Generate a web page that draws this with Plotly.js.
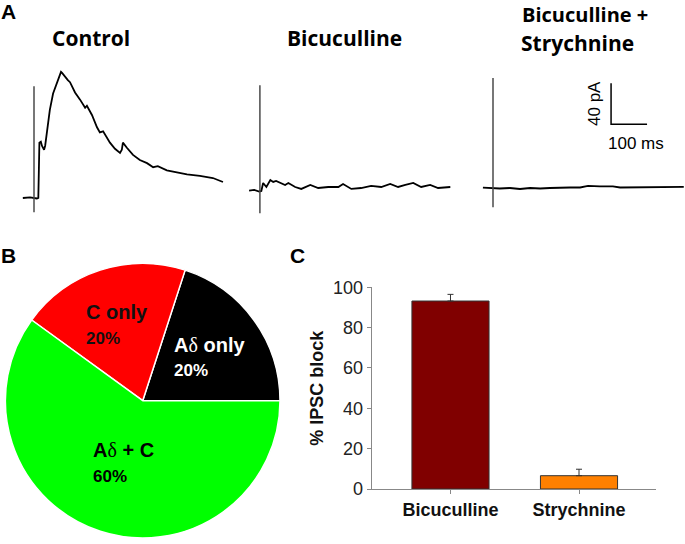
<!DOCTYPE html>
<html>
<head>
<meta charset="utf-8">
<script src="https://cdn.plot.ly/plotly-3.0.1.min.js"></script>
<style>html,body{margin:0;padding:0;background:#fff;}#chart{width:685px;height:544px;}</style>
</head>
<body>
<div id="chart"></div>
<script>
// ---------- DATA ----------
// Panel A: IPSC traces (time in ms relative to stimulus, current in pA relative to baseline)
const controlTime = [-31,-11,8,12,15,19,22,28,31,36,44,53,64,69,75,78,86,94,100,114,128,142,147,153,161,175,183,192,197,211,225,239,244,247,258,275,294,314,331,344,369,397,425,461,497,525];
const controlCurrent = [0,0.5,-0.5,0,54,55,51,47,51,63,86,102,113,117,123,122,118,115,113,103,96,88,90,86,81,69,64,65,62,54,48,44,47,54,49,42,37,34,30,31,27,25,23,21.5,19.5,15.6];
const bicTime = [-30,-16,-2,4,9,18,29,37,45,56,70,79,98,115,140,162,190,218,231,254,281,309,337,362,384,404,426,448,473,495,529];
const bicCurrent = [0,0.7,-0.8,-0.3,7.5,3.6,10.4,8.5,9.5,7.5,5.6,7.5,3.6,1.7,5.6,2.6,3.6,3.6,6.5,1.7,2.6,4.6,3.6,6.5,3.6,5.6,7.5,3.6,5.6,2.6,3.6];
const bsTime = [-28,-8,19,47,75,103,131,158,186,214,242,264,297,333,353,394,436,478,530];
const bsCurrent = [0,-0.3,-0.8,-0.3,-1.3,-0.3,-0.8,-0.3,0.2,0.2,0.2,1.7,1.2,1.2,0.2,0.2,0.2,0.7,0.7];
// stimulus artifacts (pA extent at t = 0)
const artifactTime = [0, 0];
const controlArtifact = [109, -14];
const bicArtifact = [103, -22];
const bsArtifact = [107, -19];
// scale bar: 40 pA x 100 ms
const scaleBarTime = [328, 328, 428];
const scaleBarCurrent = [102, 62, 62];
const traceTitles = ["Control", "Bicuculline", "Bicuculline +", "Strychnine"];

// Panel B: pie
const pieLabels = ["A\u03b4 only", "C only", "A\u03b4 + C"];
const pieValues = [20, 20, 60];

// Panel C: bars
const barCategories = ["Bicuculline", "Strychnine"];
const barValues = [93.2, 6.6];
const barErrors = [3.3, 3.2];
const yTickVals = [0, 20, 40, 60, 80, 100];

// ---------- LAYOUT HELPERS ----------
const W = 685, H = 544;
const px = x => x / W;
const py = y => 1 - y / H;
const ARIAL = "Liberation Sans, Arial, sans-serif";
const TITLEFONT = "Open Sans, sans-serif";

const traceLine = {color: "#000", width: 1.8};
const artLine = {color: "#4a4a4a", width: 1.5};

const data = [
  {x: controlTime, y: controlCurrent, xaxis: "x", yaxis: "y", mode: "lines", line: traceLine, hoverinfo: "skip"},
  {x: artifactTime, y: controlArtifact, xaxis: "x", yaxis: "y", mode: "lines", line: artLine, hoverinfo: "skip"},
  {x: bicTime, y: bicCurrent, xaxis: "x2", yaxis: "y2", mode: "lines", line: traceLine, hoverinfo: "skip"},
  {x: artifactTime, y: bicArtifact, xaxis: "x2", yaxis: "y2", mode: "lines", line: artLine, hoverinfo: "skip"},
  {x: bsTime, y: bsCurrent, xaxis: "x3", yaxis: "y3", mode: "lines", line: traceLine, hoverinfo: "skip"},
  {x: artifactTime, y: bsArtifact, xaxis: "x3", yaxis: "y3", mode: "lines", line: artLine, hoverinfo: "skip"},
  {x: scaleBarTime, y: scaleBarCurrent, xaxis: "x3", yaxis: "y3", mode: "lines", line: {color: "#000", width: 1.5}, hoverinfo: "skip"},
  {
    type: "pie", labels: pieLabels, values: pieValues, sort: false,
    direction: "counterclockwise", rotation: 18,
    marker: {colors: ["#000000", "#ff0000", "#00ff00"], line: {color: "#ffffff", width: 1.5}},
    textinfo: "none", hoverinfo: "none", showlegend: false,
    domain: {x: [px(5.4), px(280)], y: [py(538), py(263.4)]}
  },
  {
    type: "bar", x: barCategories, y: barValues, xaxis: "x4", yaxis: "y4", width: 0.6,
    marker: {color: ["#800000", "#ff8000"], line: {color: "#333", width: 1}},
    error_y: {type: "data", symmetric: false, array: barErrors, arrayminus: [0, 0], color: "#333", thickness: 1, width: 3},
    hoverinfo: "skip"
  }
];

const hidden = {visible: false, showgrid: false, zeroline: false, fixedrange: true};
const tRange = [-35, 532];
const iRange = [-25, 125];

const layout = {
  width: W, height: H,
  margin: {l: 0, r: 0, t: 0, b: 0},
  paper_bgcolor: "#fff", plot_bgcolor: "rgba(0,0,0,0)",
  showlegend: false,
  xaxis: Object.assign({}, hidden, {domain: [px(21.4), px(225.5)], range: tRange, anchor: "y"}),
  yaxis: Object.assign({}, hidden, {domain: [py(223.6), py(69.9)], range: iRange, anchor: "x"}),
  xaxis2: Object.assign({}, hidden, {domain: [px(247.3), px(451.4)], range: tRange, anchor: "y2"}),
  yaxis2: Object.assign({}, hidden, {domain: [py(216.3), py(62.6)], range: iRange, anchor: "x2"}),
  xaxis3: Object.assign({}, hidden, {domain: [px(480.4), px(684.5)], range: tRange, anchor: "y3"}),
  yaxis3: Object.assign({}, hidden, {domain: [py(213.3), py(59.6)], range: iRange, anchor: "x3"}),
  xaxis4: {
    domain: [px(371.7), px(656)], range: [-0.613, 1.599], anchor: "y4", type: "category",
    showline: true, linecolor: "#888", linewidth: 1, ticks: "outside", ticklen: 4, tickcolor: "#888",
    showgrid: false, zeroline: false, fixedrange: true,
    tickfont: {family: ARIAL, size: 18, color: "#111", weight: "bold"}
  },
  yaxis4: {
    domain: [py(489), py(287.3)], range: [0, 100], anchor: "x4",
    tickvals: yTickVals, showline: true, linecolor: "#888", linewidth: 1,
    ticks: "outside", ticklen: 4, tickcolor: "#888", showgrid: false, zeroline: false, fixedrange: true,
    tickfont: {family: ARIAL, size: 18, color: "#222"},
    title: {text: "% IPSC block", font: {family: ARIAL, size: 18, color: "#111", weight: "bold"}, standoff: 4}
  },
  annotations: []
};

const ann = (text, x, y, opts) => Object.assign({
  text: text, x: px(x), y: py(y), xref: "paper", yref: "paper", showarrow: false,
  xanchor: "left", yanchor: "middle", borderpad: 0
}, opts);

// panel letters
layout.annotations.push(ann("<b>A</b>", 0, 11.5, {font: {family: ARIAL, size: 21, color: "#000"}}));
layout.annotations.push(ann("<b>B</b>", 0, 255.5, {font: {family: ARIAL, size: 21, color: "#000"}}));
layout.annotations.push(ann("<b>C</b>", 289, 255.5, {font: {family: ARIAL, size: 21, color: "#000"}}));

// trace titles
const titleFont = {family: TITLEFONT, size: 21, color: "#000", weight: "bold"};
layout.annotations.push(ann(traceTitles[0], 91, 38.3, {xanchor: "center", font: titleFont}));
layout.annotations.push(ann(traceTitles[1], 344.5, 38.3, {xanchor: "center", font: titleFont}));
layout.annotations.push(ann(traceTitles[2], 521, 0, {yanchor: "top", font: {family: TITLEFONT, size: 20, color: "#000", weight: "bold"}}));
layout.annotations.push(ann(traceTitles[3], 520, 42.5, {font: titleFont}));

// scale bar labels
layout.annotations.push(ann("40 pA", 594, 104, {xanchor: "center", textangle: -90, font: {family: ARIAL, size: 17, color: "#000"}}));
layout.annotations.push(ann("100 ms", 635.5, 143, {xanchor: "center", font: {family: ARIAL, size: 17, color: "#000"}}));

// pie labels
const pieLabelPos = [
  {x: 173, y1: 345, y2: 370, color: "#ffffff"},
  {x: 85, y1: 312, y2: 338, color: "#111111"},
  {x: 92, y1: 450, y2: 476, color: "#000000"}
];
const delta = s => s.replace("\u03b4", "<span style=\"font-family:'Liberation Serif',serif;font-weight:normal\">\u03b4</span>");
pieLabels.forEach((lab, i) => {
  const p = pieLabelPos[i];
  layout.annotations.push(ann("<b>" + delta(lab) + "</b>", p.x, p.y1, {font: {family: ARIAL, size: 20, color: p.color}}));
  layout.annotations.push(ann("<b>" + pieValues[i] + "%</b>", p.x, p.y2, {font: {family: ARIAL, size: 17, color: p.color}}));
});

Plotly.newPlot("chart", data, layout, {displayModeBar: false, staticPlot: true});
</script>
</body>
</html>
